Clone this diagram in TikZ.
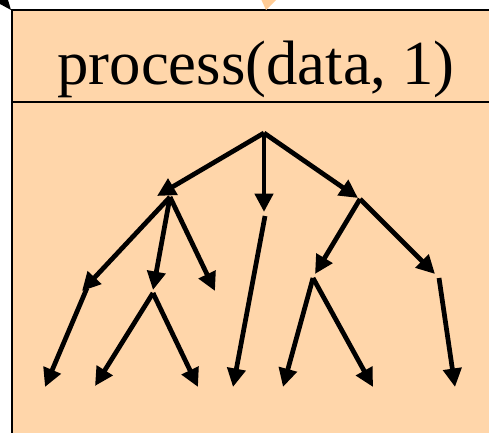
\documentclass[tikz,border=0pt]{standalone}
\usepackage{fontspec}
\setmainfont{Liberation Serif}
\usetikzlibrary{arrows.meta}
\definecolor{peach}{RGB}{255,214,170}
\definecolor{peachtip}{RGB}{255,204,150}
\begin{document}
\begin{tikzpicture}[x=0.02cm,y=-0.02cm,
        tree/.style={line width=2.7pt,-{Triangle[length=0.37cm,width=0.36cm]}}]
        \useasboundingbox (0,0) rectangle (489,432);
        \begin{scope}
        \clip (0,0) rectangle (489,432);
        \fill[peach] (12,10) rectangle (500,450);
        \draw[line width=1.5pt] (500,10) -- (12,10) -- (12,450);
        \draw[line width=1.2pt] (12,102) -- (500,102);
        \fill[black] (0,0) -- (8,0) -- (11,10) -- (0,4);
        \fill[peachtip] (261,-1) -- (277,-1) -- (266,10);
        \end{scope}
        \node[anchor=base,inner sep=0pt,font=\fontsize{35.7}{40}\selectfont] (title) at (256,85) {process(data, 1)};
        % tree of calls
        \coordinate (root) at (264,133);
        \coordinate (a in) at (157,196);  \coordinate (a) at (170,197);
        \coordinate (b in) at (264,212);  \coordinate (b) at (265,216);
        \coordinate (c in) at (358,198);  \coordinate (c) at (360,199);
        \coordinate (a1 in) at (82,291);  \coordinate (a1) at (87,288);
        \coordinate (a2 in) at (153,290); \coordinate (a2) at (153,293);
        \coordinate (a3) at (215,291);
        \coordinate (b1) at (233,387);
        \coordinate (c1 in) at (315,274); \coordinate (c1) at (313,278);
        \coordinate (c2 in) at (435,274); \coordinate (c2) at (439,278);
        \coordinate (a1l) at (45,387);
        \coordinate (a2l) at (95,386);    \coordinate (a2r) at (198,387);
        \coordinate (c1l) at (283,387);   \coordinate (c1r) at (373,387);
        \coordinate (c2l) at (455,387);
        \foreach \s/\t in {root/a in,root/b in,root/c in,a/a1 in,a/a2 in,a/a3,b/b1,c/c1 in,c/c2 in,
                a1/a1l,a2/a2l,a2/a2r,c1/c1l,c1/c1r,c2/c2l}
        \draw[tree] (\s) -- (\t);
\end{tikzpicture}
\end{document}
